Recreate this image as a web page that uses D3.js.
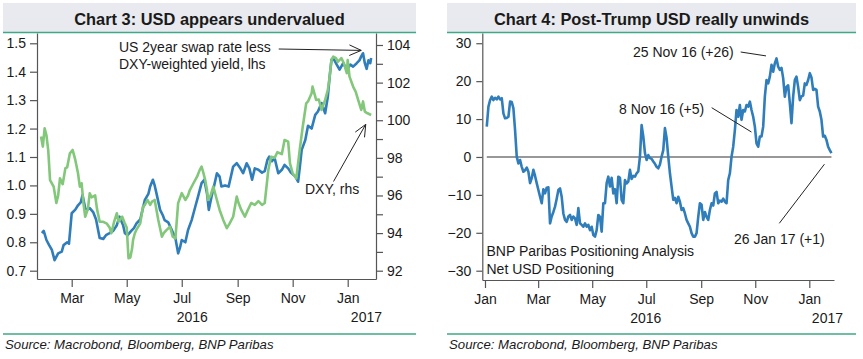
<!DOCTYPE html>
<html><head><meta charset="utf-8">
<script src="https://cdn.jsdelivr.net/npm/d3@7"></script>
<style>
body{margin:0;background:#fff;}
svg text{font-family:"Liberation Sans",Arial,sans-serif;fill:#1a1a1a;}
</style></head><body>
<svg id="c" width="863" height="359"></svg>
<script>
// ---------- DATA ----------
const titles = ["Chart 3: USD appears undervalued", "Chart 4: Post-Trump USD really unwinds"];
const sourceText = "Source: Macrobond, Bloomberg, BNP Paribas";

// US 2y swap rate less DXY-weighted yield (lhs)
const swapSpread = [
["2016-01-28",0.832],["2016-01-30",0.84],["2016-02-02",0.808],["2016-02-05",0.79],["2016-02-08",0.773],
["2016-02-11",0.737],["2016-02-15",0.761],["2016-02-19",0.767],["2016-02-21",0.79],["2016-02-25",0.80],
["2016-02-27",0.795],["2016-03-01",0.902],["2016-03-05",0.915],["2016-03-08",0.93],["2016-03-11",0.94],
["2016-03-13",0.966],["2016-03-16",0.92],["2016-03-18",0.914],["2016-03-21",0.92],["2016-03-25",0.905],
["2016-03-28",0.88],["2016-04-01",0.815],["2016-04-05",0.812],["2016-04-08",0.825],["2016-04-12",0.832],
["2016-04-16",0.84],["2016-04-20",0.86],["2016-04-23",0.89],["2016-04-27",0.86],["2016-04-29",0.832],
["2016-05-02",0.825],["2016-05-06",0.84],["2016-05-09",0.85],["2016-05-12",0.867],["2016-05-16",0.88],
["2016-05-19",0.92],["2016-05-21",0.948],["2016-05-25",0.97],["2016-05-27",0.996],["2016-05-30",1.02],
["2016-06-01",1.0],["2016-06-03",0.972],["2016-06-07",0.914],["2016-06-10",0.895],["2016-06-12",0.878],
["2016-06-16",0.87],["2016-06-19",0.85],["2016-06-24",0.814],["2016-06-27",0.761],["2016-06-29",0.78],
["2016-07-01",0.808],["2016-07-05",0.80],["2016-07-08",0.843],["2016-07-12",0.878],["2016-07-16",0.925],
["2016-07-19",0.96],["2016-07-23",1.008],["2016-07-26",1.02],["2016-07-29",0.972],["2016-07-31",0.914],
["2016-08-03",0.96],["2016-08-06",1.0],["2016-08-09",1.043],["2016-08-12",1.031],["2016-08-14",0.996],
["2016-08-18",1.0],["2016-08-22",0.996],["2016-08-27",1.066],["2016-08-31",1.078],["2016-09-04",1.06],
["2016-09-07",1.043],["2016-09-11",1.078],["2016-09-14",1.06],["2016-09-17",1.02],["2016-09-20",1.06],
["2016-09-24",1.055],["2016-09-28",1.045],["2016-10-01",1.05],["2016-10-04",1.09],["2016-10-06",1.101],
["2016-10-09",1.085],["2016-10-12",1.096],["2016-10-16",1.043],["2016-10-20",1.055],["2016-10-23",1.072],
["2016-10-27",1.06],["2016-10-30",1.045],["2016-11-04",1.031],["2016-11-07",1.013],["2016-11-09",1.066],
["2016-11-11",1.125],["2016-11-15",1.16],["2016-11-18",1.21],["2016-11-22",1.20],["2016-11-26",1.248],
["2016-11-29",1.26],["2016-12-03",1.29],["2016-12-07",1.254],["2016-12-10",1.313],["2016-12-12",1.383],
["2016-12-14",1.442],["2016-12-16",1.448],["2016-12-20",1.424],["2016-12-23",1.407],["2016-12-27",1.43],
["2016-12-31",1.407],["2017-01-04",1.425],["2017-01-07",1.418],["2017-01-11",1.43],["2017-01-14",1.44],
["2017-01-16",1.454],["2017-01-18",1.465],["2017-01-20",1.43],["2017-01-22",1.41],["2017-01-24",1.44],
["2017-01-26",1.43],["2017-01-27",1.448]
];

// DXY (rhs)
const dxy = [
["2016-01-27",99.13],["2016-01-29",98.6],["2016-01-31",99.57],["2016-02-02",99.2],["2016-02-04",98.4],
["2016-02-06",96.82],["2016-02-10",96.47],["2016-02-13",95.6],["2016-02-15",96.0],["2016-02-17",96.91],
["2016-02-20",96.6],["2016-02-23",97.45],["2016-02-25",97.5],["2016-02-28",98.24],["2016-03-02",98.42],
["2016-03-05",97.89],["2016-03-08",97.18],["2016-03-10",96.47],["2016-03-12",96.65],["2016-03-14",95.59],
["2016-03-16",94.87],["2016-03-19",95.3],["2016-03-21",96.12],["2016-03-23",95.9],["2016-03-27",96.0],
["2016-03-29",95.3],["2016-04-01",94.6],["2016-04-05",94.6],["2016-04-09",94.5],["2016-04-12",94.3],
["2016-04-14",93.99],["2016-04-17",94.6],["2016-04-20",95.05],["2016-04-22",94.6],["2016-04-26",94.87],
["2016-04-29",94.5],["2016-05-01",94.3],["2016-05-03",92.66],["2016-05-05",92.7],["2016-05-07",93.19],
["2016-05-08",93.63],["2016-05-10",93.99],["2016-05-12",94.2],["2016-05-16",94.52],["2016-05-19",95.40],
["2016-05-21",95.49],["2016-05-24",95.76],["2016-05-27",95.5],["2016-05-29",95.67],["2016-06-01",95.76],
["2016-06-05",94.70],["2016-06-09",93.81],["2016-06-11",94.0],["2016-06-14",94.16],["2016-06-18",94.34],
["2016-06-21",93.81],["2016-06-24",93.72],["2016-06-27",95.59],["2016-07-01",96.12],["2016-07-05",95.76],
["2016-07-08",96.0],["2016-07-10",96.29],["2016-07-14",96.65],["2016-07-18",97.0],["2016-07-21",97.36],
["2016-07-23",97.53],["2016-07-25",97.2],["2016-07-27",96.82],["2016-07-29",96.29],["2016-07-30",95.76],
["2016-08-02",96.0],["2016-08-05",96.47],["2016-08-09",95.76],["2016-08-12",95.23],["2016-08-16",94.70],
["2016-08-20",94.26],["2016-08-23",94.5],["2016-08-27",94.87],["2016-08-31",95.94],["2016-09-02",95.6],
["2016-09-05",95.23],["2016-09-09",94.87],["2016-09-12",95.2],["2016-09-16",95.6],["2016-09-20",95.5],
["2016-09-24",95.7],["2016-09-28",95.5],["2016-10-01",95.6],["2016-10-05",97.36],["2016-10-08",98.06],
["2016-10-12",98.0],["2016-10-15",98.3],["2016-10-20",98.2],["2016-10-23",98.95],["2016-10-27",98.86],
["2016-10-29",97.71],["2016-11-01",97.18],["2016-11-05",96.91],["2016-11-07",97.71],["2016-11-09",98.5],
["2016-11-12",99.6],["2016-11-16",100.9],["2016-11-18",101.0],["2016-11-22",101.43],["2016-11-23",101.79],
["2016-11-27",101.08],["2016-11-30",101.1],["2016-12-03",100.55],["2016-12-07",101.08],["2016-12-10",101.61],
["2016-12-12",102.32],["2016-12-14",103.21],["2016-12-16",103.38],["2016-12-19",103.3],["2016-12-21",103.1],
["2016-12-25",103.30],["2016-12-28",103.0],["2016-12-31",102.5],["2017-01-01",103.2],["2017-01-03",102.32],
["2017-01-07",101.79],["2017-01-10",101.5],["2017-01-12",101.17],["2017-01-16",100.55],["2017-01-18",101.0],
["2017-01-20",100.46],["2017-01-23",100.37],["2017-01-27",100.28]
];

// BNP Paribas positioning, net USD (regularly sampled from start to end)
const positioningStart = "2016-01-03";
const positioningEnd = "2017-01-26";
const positioningValues = [
8.0,13.3,15.0,15.9,15.0,15.6,15.2,15.9,15.2,15.5,11.5,10.2,10.3,10.6,14.6,14.5,12.8,7.1,0.1,-1.7,
-0.8,-2.6,-3.9,-3.5,-2.8,-3.9,-6.9,-5.6,-3.4,-5.0,-6.9,-8.7,-10.5,-12.2,-8.5,-9.6,-8.1,-8.0,-17.5,-15.7,
-14.5,-13.1,-11.0,-8.7,-8.3,-10.5,-14.9,-16.6,-17.1,-15.7,-15.3,-16.6,-15.7,-16.2,-17.9,-13.5,-17.5,-17.9,-18.4,-17.5,
-18.4,-17.9,-19.3,-18.4,-20.6,-21.0,-19.3,-15.3,-15.8,-19.7,-12.2,-12.2,-6.9,-5.2,-7.8,-5.5,-9.6,-8.5,-12.2,-5.2,
-5.5,-11.3,-12.2,-6.1,-7.0,-6.5,-3.4,-5.8,-5.0,-5.2,-4.3,-3.8,0.1,8.4,5.4,1.0,-0.8,0.5,-0.3,-0.5,
-1.2,-1.8,-2.6,-3.0,-2.0,0.1,1.8,7.6,5.0,0.1,-4.3,-7.8,-11.3,-10.8,-12.2,-10.5,-11.8,-14.0,-13.5,-14.9,
-16.6,-17.5,-18.4,-20.1,-21.0,-21.0,-20.1,-15.8,-12.2,-12.6,-16.6,-14.5,-15.8,-16.6,-14.0,-12.2,-12.8,-9.6,-9.2,-12.2,
-11.5,-11.8,-11.0,-11.8,-12.2,-6.1,-4.3,0.1,2.7,7.1,12.4,10.6,13.7,9.8,12.4,12.0,13.7,13.3,14.6,12.4,
10.6,8.0,3.6,2.7,5.4,5.4,8.0,15.9,20.3,19.4,21.2,24.3,22.5,24.7,26.0,23.8,23.0,23.5,20.8,15.9,
18.5,18.9,14.2,8.9,15.9,20.3,21.2,18.5,15.0,16.0,16.2,19.4,19.0,20.3,22.1,21.0,17.7,18.0,17.7,13.3,
12.0,9.8,5.4,5.6,4.5,2.7,1.8,1.0
];

const lhsTicks = [0.7,0.8,0.9,1.0,1.1,1.2,1.3,1.4,1.5];
const rhsTicks = [92,93,94,95,96,97,98,99,100,101,102,103,104];
const rhsLabelled = [92,94,96,98,100,102,104];
const posTicks = [-30,-20,-10,0,10,20,30];
const years = ["2016","2017"];
const leftNotes = ["US 2year swap rate less","DXY-weighted yield, lhs","DXY, rhs"];
const rightNotes = [
  {text:"25 Nov 16 (+26)", date:"2016-11-25", value:26},
  {text:"8 Nov 16 (+5)", date:"2016-11-08", value:5},
  {text:"26 Jan 17 (+1)", date:"2017-01-26", value:1}
];
const rightLegend = ["BNP Paribas Positioning Analysis","Net USD Positioning"];

// ---------- STYLE ----------
const BLUE = "#2f7dba", GREEN = "#82c77a", BAND = "#e8eaef", RULE = "#3fa986", AXIS = "#555";
const parse = d3.utcParse("%Y-%m-%d");
const svg = d3.select("#c");

function header(x0, x1, title){
  svg.append("rect").attr("x",x0).attr("y",3).attr("width",x1-x0).attr("height",29).attr("fill",BAND);
  svg.append("line").attr("x1",x0).attr("x2",x1).attr("y1",32.5).attr("y2",32.5).attr("stroke",RULE).attr("stroke-width",1.6);
  svg.append("text").attr("x",(x0+x1)/2).attr("y",24.5).attr("text-anchor","middle")
    .style("font-weight","bold").style("font-size","16.4px").text(title);
  svg.append("line").attr("x1",x0).attr("x2",x1).attr("y1",334).attr("y2",334).attr("stroke",RULE).attr("stroke-width",1.6);
  svg.append("text").attr("x",x0+2).attr("y",349).style("font-style","italic").style("font-size","13.2px").text(sourceText);
}
function styleAxis(g){
  g.selectAll("path,line").attr("stroke",AXIS).attr("stroke-width",1.2);
  g.selectAll("text").style("font-size","14px").attr("fill","#1a1a1a").style("font-family",'"Liberation Sans",Arial,sans-serif');
}
function arrow(g,x1,y1,x2,y2,head){
  g.append("line").attr("x1",x1).attr("y1",y1).attr("x2",x2).attr("y2",y2).attr("stroke","#222").attr("stroke-width",1);
  if(head){
    const a = Math.atan2(y2-y1,x2-x1), L=13, w=0.42;
    [-1,1].forEach(s=>{
      g.append("line").attr("x1",x2).attr("y1",y2)
        .attr("x2",x2-L*Math.cos(a+s*w)).attr("y2",y2-L*Math.sin(a+s*w))
        .attr("stroke","#222").attr("stroke-width",1);
    });
  }
}
function timeAxis(g, x, yPos, yearOffsets){
  const ax = d3.axisBottom(x).ticks(d3.utcMonth.every(2)).tickFormat(d3.utcFormat("%b")).tickSize(8).tickPadding(6).tickSizeOuter(0);
  const a = g.append("g").attr("transform",`translate(0,${yPos})`).call(ax);
  styleAxis(a);
  const [d0,d1] = x.domain(), [r0,r1] = x.range();
  const jan17 = Date.UTC(2017,0,1);
  g.append("text").attr("x",(r0 + x(jan17))/2 + yearOffsets[0]).attr("y",yPos+43).attr("text-anchor","middle").style("font-size","14px").text(years[0]);
  g.append("text").attr("x",r1 + yearOffsets[1]).attr("y",yPos+43).attr("text-anchor","end").style("font-size","14px").text(years[1]);
}

// ---------- LEFT CHART ----------
header(3,416,titles[0]);
const L = {left:37, right:376, top:33, bottom:279};
const xL = d3.scaleUtc().domain([Date.UTC(2016,0,22,12,43), Date.UTC(2017,1,1,9)]).range([L.left,L.right]);
const yL = d3.scaleLinear().domain([0.6708,1.5362]).range([L.bottom,L.top]);
const yR = d3.scaleLinear().domain([91.559,104.638]).range([L.bottom,L.top]);
const gL = svg.append("g");
const axL = gL.append("g").attr("transform",`translate(${L.left},0)`)
  .call(d3.axisLeft(yL).tickValues(lhsTicks).tickFormat(d3.format(".1f")).tickSize(7).tickPadding(4).tickSizeOuter(0));
styleAxis(axL);
const axR = gL.append("g").attr("transform",`translate(${L.right},0)`)
  .call(d3.axisRight(yR).tickValues(rhsTicks).tickFormat(d=>rhsLabelled.includes(d)?d:"").tickSize(7).tickPadding(4).tickSizeOuter(0));
styleAxis(axR);
timeAxis(gL, xL, L.bottom, [0, 6]);

const lineL = d3.line().x(d=>xL(parse(d[0]))).y(d=>yL(d[1]));
const lineR = d3.line().x(d=>xL(parse(d[0]))).y(d=>yR(d[1]));
gL.append("path").datum(swapSpread).attr("d",lineL).attr("fill","none").attr("stroke",BLUE).attr("stroke-width",2.6).attr("stroke-linejoin","round");
gL.append("path").datum(dxy).attr("d",lineR).attr("fill","none").attr("stroke",GREEN).attr("stroke-width",2.6).attr("stroke-linejoin","round");

const n1 = gL.append("text").attr("x",119).attr("y",51.5).style("font-size","14px").text(leftNotes[0]);
gL.append("text").attr("x",119).attr("y",69).style("font-size","14px").text(leftNotes[1]);
const bb = n1.node().getBBox();
arrow(gL, bb.x+bb.width+8, 49, xL(parse("2017-01-16")), yL(1.475), true);
gL.append("text").attr("x",305).attr("y",194).style("font-size","14px").text(leftNotes[2]);
arrow(gL, 333.5, 181.5, xL(parse("2017-01-21")), yR(99.78), true);

// ---------- RIGHT CHART ----------
header(447,856,titles[1]);
const R = {left:482.3, right:834, top:33, bottom:280};
const xP = d3.scaleUtc().domain([Date.UTC(2015,11,28,23), Date.UTC(2017,0,28,21)]).range([R.left,R.right]);
const yP = d3.scaleLinear().domain([-32.45,32.7]).range([R.bottom,R.top]);
const gR = svg.append("g");
const axP = gR.append("g").attr("transform",`translate(${R.left},0)`)
  .call(d3.axisLeft(yP).tickValues(posTicks).tickSize(6).tickPadding(5).tickSizeOuter(0));
styleAxis(axP);
timeAxis(gR, xP, R.bottom, [0, 9]);

const t0 = +parse(positioningStart), t1 = +parse(positioningEnd), nP = positioningValues.length;
const posData = positioningValues.map((v,i)=>({date:new Date(t0+(t1-t0)*i/(nP-1)), value:v}));
gR.append("line").attr("x1",xP(posData[0].date)).attr("x2",xP(posData[nP-1].date))
  .attr("y1",yP(0)).attr("y2",yP(0)).attr("stroke","#333").attr("stroke-width",1.1);
gR.append("path").datum(posData).attr("d",d3.line().x(d=>xP(d.date)).y(d=>yP(d.value)))
  .attr("fill","none").attr("stroke",BLUE).attr("stroke-width",2.6).attr("stroke-linejoin","round");

// annotations
const noteLayout = [
  {tx:633, ty:56.5, sx:740.7, sy:52, dx:-10.5, dy:-2.5},
  {tx:619, ty:113.5, sx:711.7, sy:107.7, dx:-10, dy:-6},
  {tx:734, ty:244, sx:779.3, sy:223.3, dx:-7, dy:11}
];
rightNotes.forEach((n,i)=>{
  const p = noteLayout[i];
  gR.append("text").attr("x",p.tx).attr("y",p.ty).style("font-size","14px").text(n.text);
  arrow(gR, p.sx, p.sy, xP(parse(n.date))+p.dx, yP(n.value)+p.dy, false);
});
gR.append("text").attr("x",486.5).attr("y",256).style("font-size","14px").text(rightLegend[0]);
gR.append("text").attr("x",486.5).attr("y",273.5).style("font-size","14px").text(rightLegend[1]);
</script>
</body></html>
